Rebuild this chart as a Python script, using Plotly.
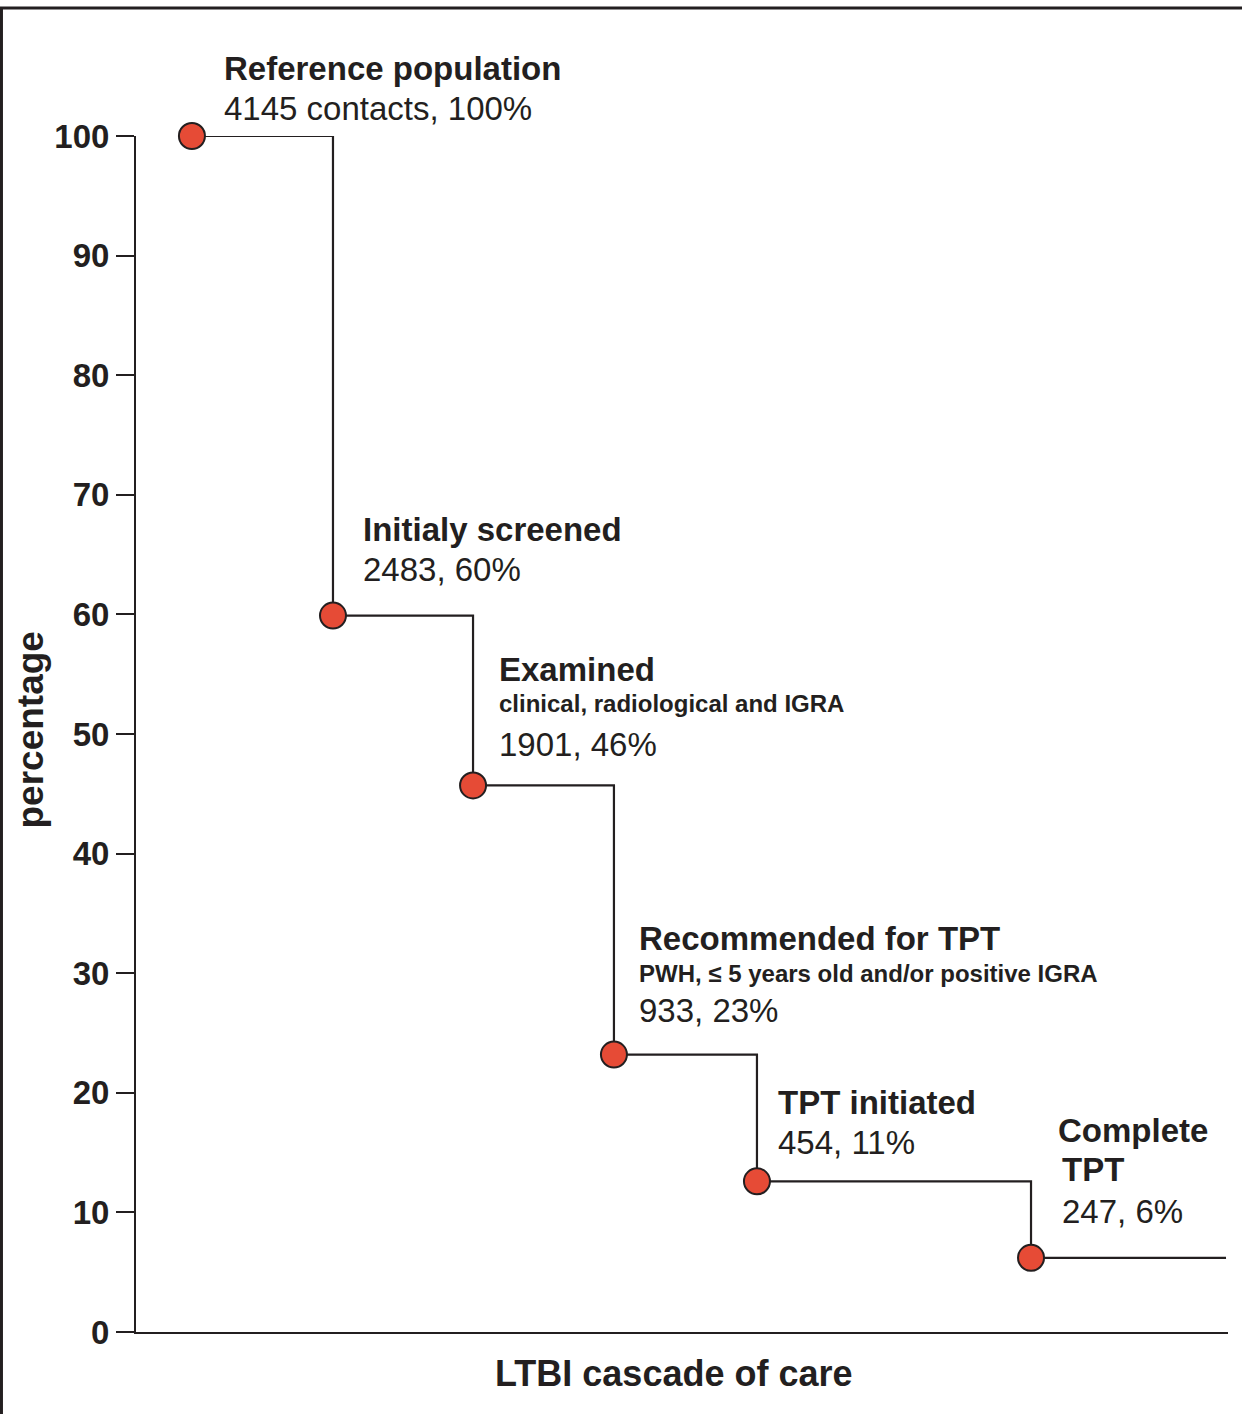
import plotly.graph_objects as go

# ---- data ----
stage_titles = ["Reference population", "Initialy screened", "Examined",
                "Recommended for TPT", "TPT initiated", "Complete TPT"]
stage_subtitles = ["", "", "clinical, radiological and IGRA",
                   "PWH, \u2264 5 years old and/or positive IGRA", "", ""]
stage_counts = ["4145 contacts", "2483", "1901", "933", "454", "247"]
stage_pct_text = ["100%", "60%", "46%", "23%", "11%", "6%"]
stage_values = [100, 59.9, 45.7, 23.2, 12.6, 6.2]      # position
stage_x = [0.397, 1.398, 2.392, 3.392, 4.407, 6.352]    # horizontal position of each stage
end_x = 7.736
y_ticks = [0, 10, 20, 30, 40, 50, 60, 70, 80, 90, 100]

DARK = "#231f20"
RED = "#e64b36"
FONT = "Liberation Sans, Arial, sans-serif"

fig = go.Figure()

# step line
fig.add_trace(go.Scatter(
    x=stage_x + [end_x], y=stage_values + [stage_values[-1]],
    mode="lines", line=dict(color=DARK, width=2.2, shape="hv"),
    hoverinfo="skip", showlegend=False, cliponaxis=False))

# markers
fig.add_trace(go.Scatter(
    x=stage_x, y=stage_values, mode="markers",
    marker=dict(size=26, color=RED, line=dict(color=DARK, width=2)),
    showlegend=False, cliponaxis=False))

# label layout (pixel offsets from each point)
title_offsets = [(30, 68), (28, 86), (24, 116), (23, 116), (19, 79), (25, 127)]
sub_offsets = [None, None, (24, 82), (23, 81), None, None]
num_offsets = [(30, 28), (28, 46), (24, 41), (23, 44), (19, 39), (29, 46)]

anns = []
for i in range(len(stage_titles)):
    xs, ys = title_offsets[i]
    title_lines = stage_titles[i].split(" ") if i == 5 else [stage_titles[i]]
    for j, line in enumerate(title_lines):
        anns.append(dict(x=stage_x[i], y=stage_values[i], xref="x", yref="y",
                         text=line, showarrow=False, xanchor="left", yanchor="middle",
                         xshift=xs + (4 if j > 0 else 0), yshift=ys - 39 * j,
                         font=dict(family=FONT, size=33, color=DARK, weight="bold")))
    if stage_subtitles[i]:
        xs, ys = sub_offsets[i]
        anns.append(dict(x=stage_x[i], y=stage_values[i], xref="x", yref="y",
                         text=stage_subtitles[i], showarrow=False, xanchor="left",
                         yanchor="middle", xshift=xs, yshift=ys,
                         font=dict(family=FONT, size=24, color=DARK, weight="bold")))
    xs, ys = num_offsets[i]
    anns.append(dict(x=stage_x[i], y=stage_values[i], xref="x", yref="y",
                     text=f"{stage_counts[i]}, {stage_pct_text[i]}", showarrow=False,
                     xanchor="left", yanchor="middle", xshift=xs, yshift=ys,
                     font=dict(family=FONT, size=33, color=DARK)))

# axis titles
anns.append(dict(x=-0.097, y=0.503, xref="paper", yref="paper", text="percentage",
                 textangle=-90, showarrow=False, xanchor="center", yanchor="middle",
                 font=dict(family=FONT, size=37, color=DARK, weight="bold")))
anns.append(dict(x=0.4927, y=-0.0343, xref="paper", yref="paper",
                 text="LTBI cascade of care", showarrow=False, xanchor="center",
                 yanchor="middle",
                 font=dict(family=FONT, size=36, color=DARK, weight="bold")))

# frame lines (top and left)
shapes = [
    dict(type="line", xref="paper", yref="paper", x0=-0.13, x1=1.02, y0=1.107, y1=1.107,
         line=dict(color=DARK, width=3)),
    dict(type="line", xref="paper", yref="paper", x0=-0.1232, x1=-0.1232, y0=1.107, y1=-0.08,
         line=dict(color=DARK, width=3)),
]

fig.update_layout(
    width=1242, height=1414,
    margin=dict(l=136, r=14, t=136, b=82),
    paper_bgcolor="white", plot_bgcolor="white",
    annotations=anns, shapes=shapes, showlegend=False,
    xaxis=dict(range=[0, 7.75], showgrid=False, zeroline=False, showticklabels=False,
               ticks="", showline=True, linecolor=DARK, linewidth=2),
    yaxis=dict(range=[0, 100], tickvals=y_ticks, showgrid=False, zeroline=False,
               ticks="outside", ticklen=18, tickwidth=2, tickcolor=DARK,
               showline=True, linecolor=DARK, linewidth=2,
               tickfont=dict(family=FONT, size=33, color=DARK, weight="bold")),
)

fig.write_html("out.html", config={"displayModeBar": False},
               post_script="document.body.style.margin='0';document.body.style.overflow='hidden';")
